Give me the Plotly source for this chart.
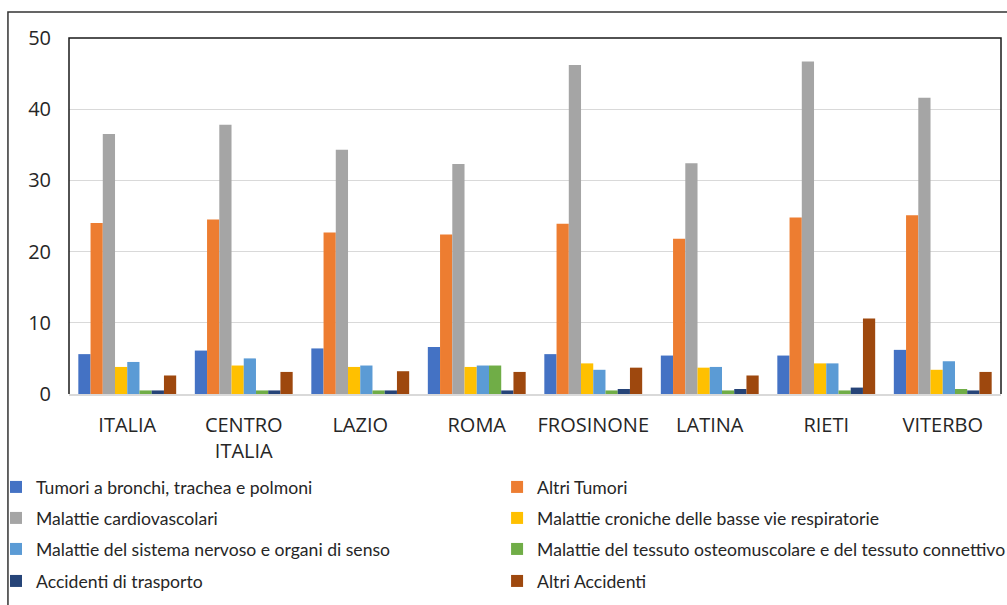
import plotly.graph_objects as go

areas = ["ITALIA", "CENTRO<br>ITALIA", "LAZIO", "ROMA", "FROSINONE", "LATINA", "RIETI", "VITERBO"]

causes = [
    "Tumori a bronchi, trachea e polmoni",
    "Altri Tumori",
    "Malattie cardiovascolari",
    "Malattie croniche delle basse vie respiratorie",
    "Malattie del sistema nervoso e organi di senso",
    "Malattie del tessuto osteomuscolare e del tessuto connettivo",
    "Accidenti di trasporto",
    "Altri Accidenti",
]

tumori_polmoni = [5.6, 6.1, 6.4, 6.6, 5.6, 5.4, 5.4, 6.2]
altri_tumori = [24.0, 24.5, 22.7, 22.4, 23.9, 21.8, 24.8, 25.1]
cardiovascolari = [36.5, 37.8, 34.3, 32.3, 46.2, 32.4, 46.7, 41.6]
respiratorie = [3.8, 4.0, 3.8, 3.8, 4.3, 3.7, 4.3, 3.4]
sistema_nervoso = [4.5, 5.0, 4.0, 4.0, 3.4, 3.8, 4.3, 4.6]
osteomuscolare = [0.5, 0.5, 0.5, 4.0, 0.5, 0.5, 0.5, 0.7]
trasporto = [0.5, 0.5, 0.5, 0.5, 0.7, 0.7, 0.9, 0.5]
altri_accidenti = [2.6, 3.1, 3.2, 3.1, 3.7, 2.6, 10.6, 3.1]

series = [tumori_polmoni, altri_tumori, cardiovascolari, respiratorie,
          sistema_nervoso, osteomuscolare, trasporto, altri_accidenti]
colors = ["#4472C4", "#ED7D31", "#A5A5A5", "#FFC000",
          "#5B9BD5", "#70AD47", "#264478", "#9E480E"]

# one legend per entry: two columns x four rows below the plot
col_x = [-0.0783, 0.4593]
row_y = [-0.2612, -0.3483, -0.4354, -0.5253]

fig = go.Figure()
legends = {}
legend_font = dict(family="Lato, sans-serif", size=17.6, color="#262626")
for i, (name, vals, col) in enumerate(zip(causes, series, colors)):
    key = "legend" if i == 0 else f"legend{i + 1}"
    fig.add_trace(go.Bar(x=areas, y=vals, name=name, marker_color=col,
                         marker_line_width=0, legend=key))
    legends[key] = dict(x=col_x[i % 2], y=row_y[i // 2], xanchor="left", yanchor="middle",
                        font=legend_font, bgcolor="rgba(0,0,0,0)", itemclick=False)

fig.update_layout(
    width=1007, height=605,
    margin=dict(l=69, r=6, t=38, b=211, autoexpand=False),
    plot_bgcolor="white", paper_bgcolor="white",
    barmode="group", bargap=0.16, bargroupgap=0,
    showlegend=True,
    font=dict(family="Open Sans, DejaVu Sans, sans-serif", color="#262626"),
    **legends,
)

fig.update_yaxes(range=[0, 50], dtick=10, showgrid=True, gridcolor="#D9D9D9", gridwidth=1,
                 zeroline=False, showline=False, ticks="", tickfont=dict(size=20),
                 ticklabelstandoff=17)
fig.update_xaxes(showline=True, linecolor="#D9D9D9", linewidth=1.5, ticks="",
                 tickfont=dict(size=20), ticklabelstandoff=12)

# inner plot frame (top, left, right) and outer chart border
fig.add_shape(type="path", xref="paper", yref="paper",
              path="M 0 0 L 0 1 L 1 1 L 1 0", line=dict(color="#1a1a1a", width=1.5))
fig.add_shape(type="rect", xref="paper", yref="paper",
              x0=-0.0655, y0=-0.62, x1=1.02, y1=1.073,
              line=dict(color="#333333", width=1.5))

fig.write_html("out.html", config={"displayModeBar": False},
               post_script="document.body.style.margin='0';")
